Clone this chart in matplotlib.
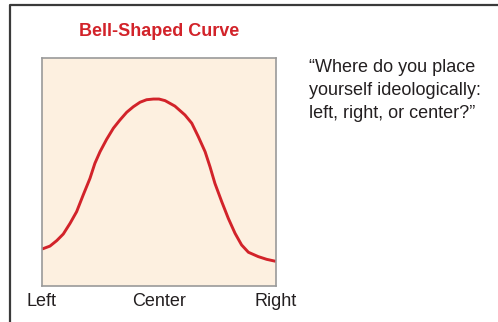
import matplotlib
matplotlib.use("Agg")
import matplotlib.pyplot as plt
from matplotlib.lines import Line2D

plt.rcParams['font.family'] = ['Liberation Sans', 'DejaVu Sans']

# curve, x and y in percent of the plot box
curve_x = [0, 3.4, 6.3, 9.1, 12.0, 14.8, 17.6, 20.5, 22.6, 24.8,
           27.6, 30.5, 33.3, 36.2, 39.0, 41.9, 44.7, 47.6, 50.0, 52.6,
           56.8, 61.1, 64.0, 66.8, 69.7, 71.8, 73.9, 76.8, 79.6, 82.5,
           85.3, 88.2, 92.4, 96.0, 100]
curve_y = [16.2, 17.5, 19.9, 22.8, 27.5, 32.6, 39.9, 47.2, 53.8, 58.9,
           64.3, 69.2, 72.8, 76.2, 78.6, 80.6, 81.7, 82.0, 82.0, 81.3,
           78.9, 75.0, 71.4, 65.5, 58.9, 52.3, 45.0, 37.0, 29.7, 23.1,
           18.0, 14.8, 12.9, 11.7, 10.8]
tick_pos = [0, 50, 100]
tick_labels = ["Left", "Center", "Right"]
title = "Bell-Shaped Curve"
question = "\u201cWhere do you place\nyourself ideologically:\nleft, right, or center?\u201d"

W, H = 498, 322
fig = plt.figure(figsize=(W / 100, H / 100), dpi=100)

# outer frame, only top and left edges show
fig.add_artist(Line2D([10 / W, 10 / W, 1], [0, 1 - 5 / H, 1 - 5 / H],
                      transform=fig.transFigure, color="#3a3a3a", lw=1.6))

ax = fig.add_axes([42 / W, (H - 286) / H, 234 / W, 228 / H])
ax.set_facecolor("#fdf0e0")
ax.plot(curve_x, curve_y, color="#d2232a", lw=2.1,
        solid_joinstyle="round", solid_capstyle="butt")
ax.set_xlim(0, 100)
ax.set_ylim(0, 100)
for s in ax.spines.values():
    s.set_color("#9a9a9a")
    s.set_linewidth(1.2)
ax.set_xticks(tick_pos)
ax.set_xticklabels(tick_labels, fontsize=13, color="#231f20")
ax.tick_params(axis="x", length=0, pad=5)
ax.set_yticks([])

fig.text(159 / W, 1 - 32 / H, title, ha="center", va="center",
         fontsize=13, fontweight="bold", color="#d2232a")
fig.text(309 / W, 1 - 59 / H, question, ha="left", va="top",
         fontsize=13, color="#231f20", linespacing=1.45)

fig.savefig("out.png", dpi=100)
